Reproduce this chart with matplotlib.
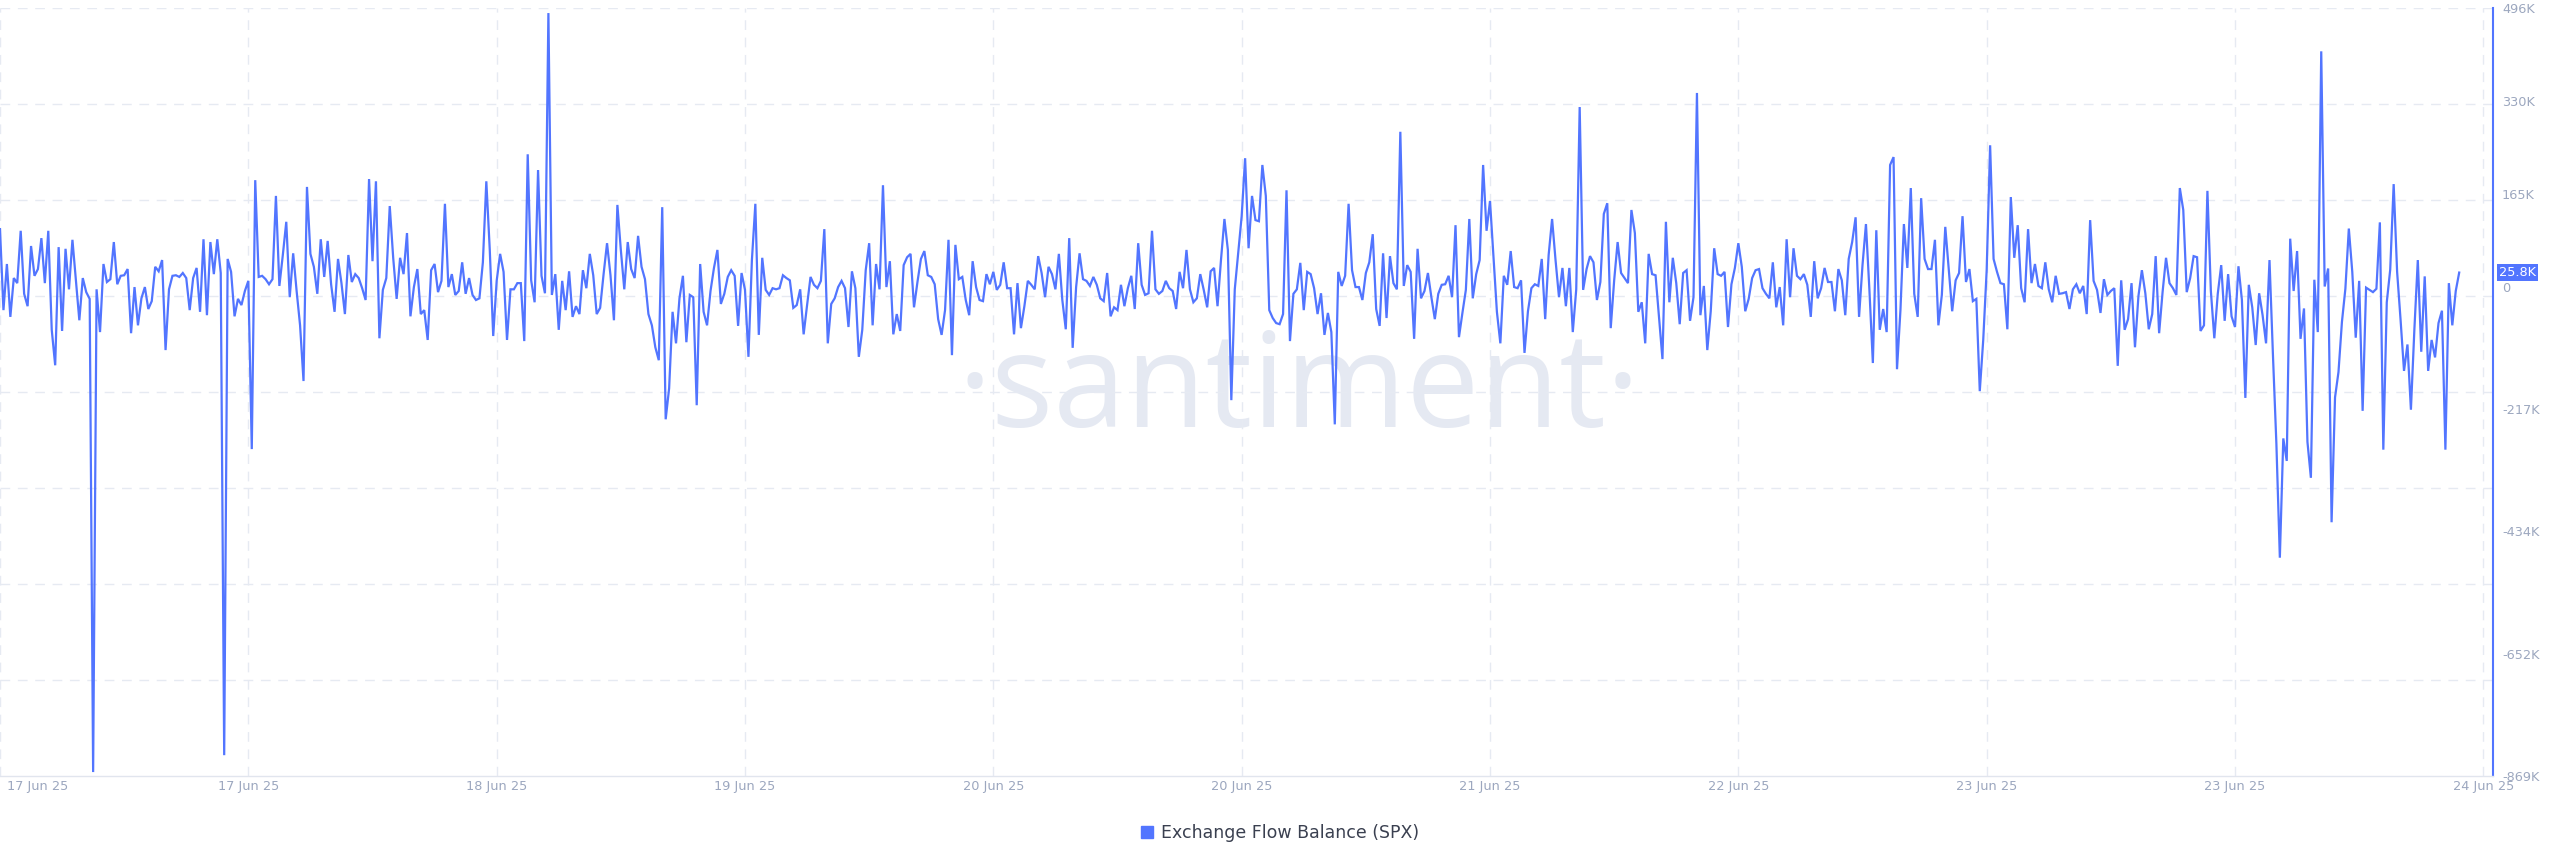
"""
Exchange Flow Balance (SPX), 15-minute candles, 17-24 Jun 2025
Santiment-style line chart, saved as out.png
"""

import pandas as pd
import matplotlib.pyplot as plt
from matplotlib.lines import Line2D
from matplotlib.transforms import ScaledTranslation

# ---------- 1. Data (values in thousands of SPX) ----------
seg01 = [103, -41, 41, -53, 16, 7, 100, -12, -34, 73, 20, 32, 87, 7, 100, -76, -139, 71, -78, 68,
         -4, 84, 12, -59, 16, -9, -21, -862, -4, -80, 41, 9, 14, 80, 5, 20, 21, 32, -82, 0,
         -68, -20, 0, -39, -25, 36, 28, 48, -112, -4, 20, 21, 18, 25, 16, -41, 16, 34, -44, 85,
         -50, 80]
seg02 = [23, 85, 25, -832, 50, 27, -52, -21, -32, -7, 11, -288, 190, 18, 20, 14, 5, 14, 162, 2,
         57, 116, -18, 60, -7, -68, -167, 178, 59, 36, -12, 85, 18, 82, 5, -44, 50, 7, -48, 57,
         9, 23, 16, -2, -23, 192, 46, 188, -91, -5, 16, 144, 52, -21, 52, 23, 96, -52, 0]
seg03 = [32, -48, -41, -94, 30, 41, -9, 11, 148, 0, 23, -14, -7, 44, -12, 16, -14, -23, -20, 44,
         188, 66, -87, 11, 59, 27, -94, -4, -4, 7, 7, -96, 236, 12, -27, 208, 20, -11, 487, -14,
         23, -76, 11, -41, 28, -53, -34, -48, 30, -2, 59, 21, -48, -37, 23, 78, 21, -59, 146, 66]
seg04 = [-4, 80, 32, 16, 91, 36, 14, -48, -68, -107, -130, 142, -235, -180, -44, -100, -20, 20, -98, -14,
         -18, -210, 41, -44, -68, -7, 34, 66, -30, -12, 18, 30, 20, -69, 25, -5, -124, 48, 148, -85,
         52, -5, -14, -2, -4, -2, 21, 16, 12, -37, -32, -4, -84, -32, 18, 4, -2, 11, 103]
seg05 = [-100, -30, -20, 0, 11, -2, -71, 28, -2, -124, -76, 30, 78, -68, 41, -4, 181, 0, 46, -84,
         -48, -78, 39, 53, 59, -36, 9, 50, 64, 21, 18, 5, -57, -85, -41, 84, -121, 75, 14, 18,
         -23, -50, 46, 0, -23, -25, 23, 5, 27, -5, 4, 44, -2, -2, -84, 7, -73, -34, 11, 4]
seg06 = [-4, 55, 25, -18, 36, 23, -4, 59, -23, -75, 87, -108, 0, 60, 14, 11, 2, 18, 4, -20,
         -25, 25, -52, -36, -41, 4, -34, -2, 20, -39, 78, 4, -14, -11, 100, -4, -12, -7, 11, -2,
         -7, -39, 27, -2, 66, -4, -27, -20, 23, -5, -36, 28, 34, -34, 48, 121, 66, -201, -4]
seg07 = [60, 126, 229, 69, 162, 119, 117, 217, 162, -41, -55, -64, -66, -48, 172, -96, -12, -4, 43, -41,
         27, 23, -2, -48, -11, -85, -46, -80, -244, 27, 2, 20, 148, 30, 0, 0, -23, 25, 44, 94,
         -39, -69, 60, -55, 55, 7, -4, 276, 2, 39, 27, -92, 68, -20, -7, 25, -18, -57, -12]
seg08 = [4, 5, 20, -18, 110, -89, -46, -5, 121, -20, 23, 48, 217, 100, 153, 55, -44, -100, 20, 4,
         64, 0, -2, 12, -117, -43, -2, 5, 2, 50, -57, 57, 121, 48, -18, 34, -34, 34, -80, -4,
         320, -5, 32, 55, 44, -23, 9, 130, 149, -73, 12, 80, 25, 16, 7, 137, 96, -44, -27, -100]
seg09 = [59, 23, 21, -53, -128, 116, -27, 52, 7, -66, 25, 30, -60, -18, 345, -50, 2, -112, -43, 69,
         23, 20, 27, -71, 5, 34, 78, 36, -43, -21, 16, 30, 32, -2, -12, -20, 44, -36, 0, -68,
         85, -18, 69, 20, 14, 23, 4, -53, 46, -20, -2, 34, 9, 9, -43, 32, 12, -50, 50]
seg10 = [80, 124, -53, 39, 112, -5, -135, 101, -76, -39, -80, 217, 231, -146, -41, 112, 34, 176, -12, -53,
         158, 50, 32, 32, 84, -68, -14, 107, 32, -43, 12, 25, 126, 9, 32, -25, -21, -185, -94, 30,
         252, 50, 27, 7, 5, -75, 160, 52, 110, -2, -27, 103, 7, 41, 2, -2, 44, -4, -27, 20]
seg11 = [-12, -11, -9, -39, -4, 5, -11, 2, -48, 119, 11, -5, -46, 14, -14, -7, -2, -140, 12, -76,
         -57, 7, -107, -16, 30, -11, -75, -48, 55, -82, -9, 52, 7, -2, -14, 176, 137, -9, 16, 55,
         53, -78, -68, 171, -7, -91, -12, 39, -60, 23, -52, -71, 37, -23, -197, 4, -36, -103, -11]
seg12 = [-50, -100, 48, -121, -279, -481, -269, -309, 86, -7, 64, -92, -38, -275, -339, 13, -80, 419, 1, 33,
         -418, -196, -151, -62, -3, 104, 27, -90, 11, -220, -1, -5, -9, -3, 115, -289, -27, 31, 183, 27,
         -58, -149, -102, -218, -76, 48, -115, 19, -149, -94, -125, -64, -42, -289, 7, -68, -7, 25.8]

flow = seg01 + seg02 + seg03 + seg04 + seg05 + seg06 + seg07 + seg08 + seg09 + seg10 + seg11 + seg12

start = pd.Timestamp("2025-06-17 00:00")
times = pd.date_range(start, periods=len(flow), freq="15min")

y_ticks = [496, 330, 165, 0, -217, -434, -652, -869]
y_labels = ["496K", "330K", "165K", "0", "-217K", "-434K", "-652K", "-869K"]
x_ticks = pd.date_range(start, periods=11, freq="18h")
x_labels = [t.strftime("%d %b %y") for t in x_ticks]
last_label = "25.8K"
series_name = "Exchange Flow Balance (SPX)"

# ---------- 2. Style ----------
BLUE = "#5275ff"
GRID = "#e6eaf2"
TICK = "#9ca7bf"

fig = plt.figure(figsize=(25.6, 8.67), dpi=100)
ax = fig.add_axes([0, 1 - 776 / 867, 2493 / 2560, 768 / 867])

ymin, ymax = -869, 496
ax.set_ylim(ymin, ymax)
ax.set_xlim(start, start + pd.Timedelta(minutes=15 * 722.8))

# watermark
ax.text(0.521, 0.455, "\u00b7santiment\u00b7", transform=ax.transAxes, ha="center", va="baseline",
        fontsize=94, family="Open Sans", color="#e5e9f2", zorder=0)

# grid: 8 even horizontal bands, vertical lines on the date ticks
for k in range(1, 9):
    ax.axhline(ymin + k * (ymax - ymin) / 8, color=GRID, lw=1.0, dashes=(7, 5.5), zorder=1)
for t in x_ticks:
    ax.axvline(t, color=GRID, lw=1.0, dashes=(7, 5.5), zorder=1)

# ---------- 3. Line ----------
ax.plot(times, flow, color=BLUE, lw=1.6, zorder=3, solid_joinstyle="miter")

# ---------- 4. Axes ----------
for side in ["left", "top"]:
    ax.spines[side].set_visible(False)
ax.spines["right"].set_color(BLUE)
ax.spines["right"].set_linewidth(1.5)
ax.spines["bottom"].set_color("#e1e5ee")
ax.spines["bottom"].set_linewidth(1.0)

ax.yaxis.tick_right()
ax.set_yticks(y_ticks)
ax.set_yticklabels(y_labels)
ax.set_xticks(x_ticks)
ax.set_xticklabels(x_labels)
ax.tick_params(axis="y", length=0, pad=6.5, labelsize=9.3, labelcolor=TICK)
ax.tick_params(axis="x", length=0, pad=3, labelsize=9.3, labelcolor=TICK)
first = ax.get_xticklabels()[0]
first.set_ha("left")
first.set_transform(first.get_transform() + ScaledTranslation(0.07, 0, fig.dpi_scale_trans))

# current value badge on the right axis
ax.annotate(last_label, xy=(1, flow[-1]), xycoords=ax.get_yaxis_transform(),
            xytext=(4.3, 0), textcoords="offset points", ha="left", va="center",
            fontsize=9.3, color="white",
            bbox=dict(boxstyle="square,pad=0.15", fc=BLUE, ec="none"), annotation_clip=False)

# ---------- 5. Legend ----------
handle = Line2D([], [], marker="s", linestyle="none", color=BLUE, markersize=8)
fig.legend([handle], [series_name], loc="center", bbox_to_anchor=(0.5, 1 - 833 / 867),
           frameon=False, fontsize=12.5, handlelength=0.8, handletextpad=0.4,
           labelcolor="#3a4050")

fig.savefig("out.png", dpi=100)
print("Saved out.png")
